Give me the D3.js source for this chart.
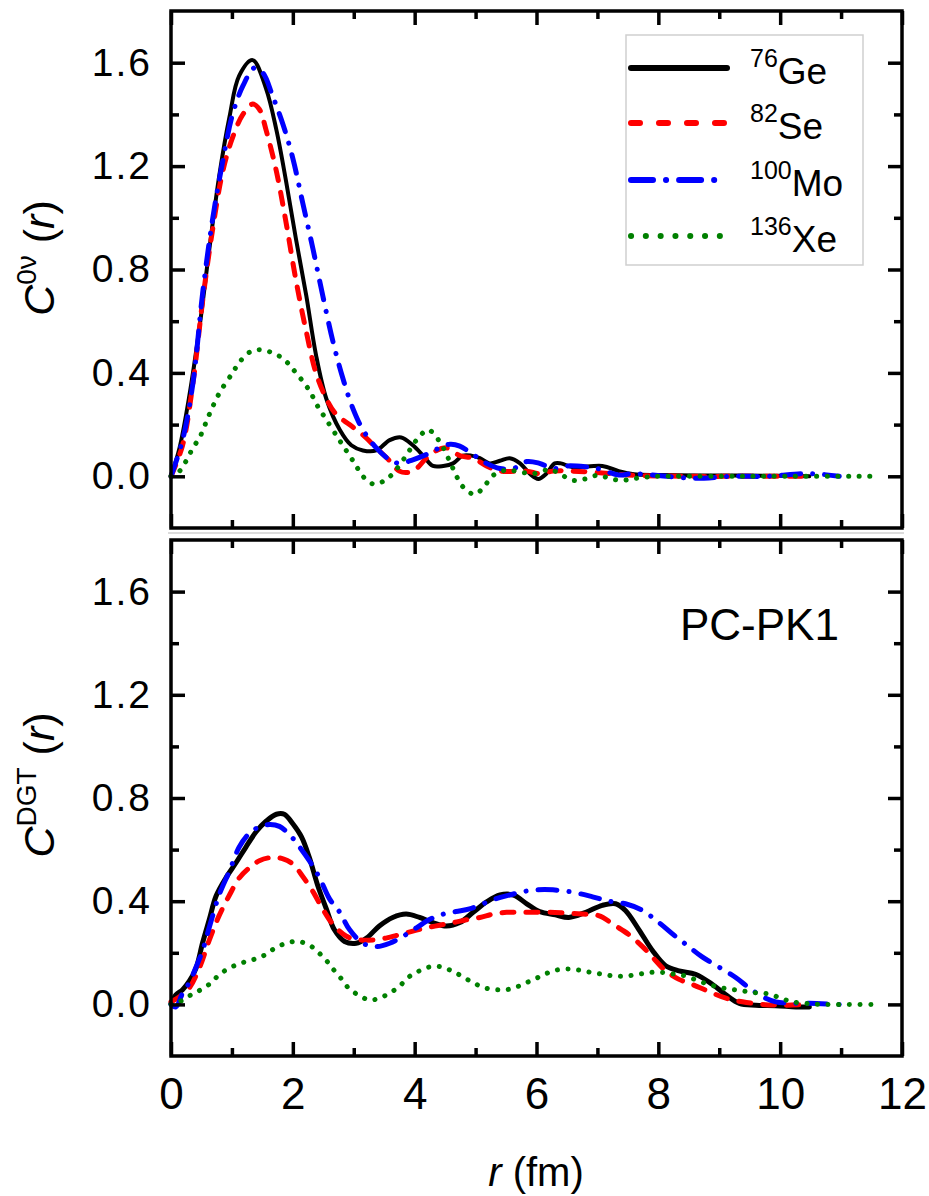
<!DOCTYPE html>
<html>
<head>
<meta charset="utf-8">
<script src="https://cdn.jsdelivr.net/npm/d3@7"></script>
<style>
  body { margin: 0; background: #fff; }
  text { font-family: Arial, "Liberation Sans", sans-serif; fill: #000; }
</style>
</head>
<body>
<svg id="chart" width="929" height="1196"></svg>
<script>
// series labels and styles
const massNumbers = ["76", "82", "100", "136"];
const symbols = ["Ge", "Se", "Mo", "Xe"];
const colors = ["#000000", "#ff0000", "#0000ff", "#008000"];
const dashes = [null, "12,12", "19,12,0.1,12", "0.1,10.5"];

const xMajor = [0, 2, 4, 6, 8, 10, 12];
const xMinor = [1, 3, 5, 7, 9, 11];
const yMajor = [0, 0.4, 0.8, 1.2, 1.6];
const yMinor = [0.2, 0.6, 1.0, 1.4];

// top panel, C^0v(r): [r (fm), value]
const ge0v = [[0,0],[0.14,0.11],[0.30,0.31],[0.47,0.58],[0.63,0.88],[0.79,1.16],[0.96,1.39],[1.12,1.55],[1.34,1.61],[1.56,1.50],[1.73,1.34],[1.89,1.14],[2.05,0.92],[2.22,0.70],[2.38,0.47],[2.55,0.30],[2.77,0.18],[2.96,0.12],[3.15,0.10],[3.37,0.10],[3.59,0.14],[3.78,0.15],[3.97,0.12],[4.14,0.08],[4.30,0.04],[4.47,0.04],[4.63,0.05],[4.79,0.08],[4.93,0.08],[5.07,0.07],[5.23,0.05],[5.40,0.06],[5.56,0.07],[5.73,0.05],[5.89,0.01],[6.03,-0.01],[6.16,0.01],[6.30,0.05],[6.40,0.05],[6.60,0.035],[7.08,0.04],[7.35,0.02],[7.60,0.008],[8.0,0.005],[9.0,0.003],[10.0,0.002],[10.48,0]];
const se0v = [[0,0],[0.19,0.12],[0.36,0.36],[0.52,0.68],[0.68,0.95],[0.85,1.18],[1.01,1.31],[1.18,1.40],[1.34,1.44],[1.45,1.42],[1.56,1.34],[1.73,1.18],[1.89,0.98],[2.05,0.76],[2.22,0.56],[2.38,0.40],[2.55,0.30],[2.71,0.24],[2.93,0.20],[3.15,0.16],[3.37,0.11],[3.59,0.06],[3.75,0.02],[3.89,0.015],[4.03,0.03],[4.19,0.07],[4.36,0.10],[4.52,0.11],[4.74,0.08],[4.96,0.07],[5.18,0.04],[5.40,0.02],[5.84,0.02],[6.05,0.01],[6.27,0.02],[6.60,0.02],[7.0,0.015],[7.5,0.005],[8.5,0],[9.5,0],[10.5,0]];
const mo0v = [[0,0],[0.19,0.14],[0.36,0.36],[0.52,0.71],[0.68,0.99],[0.85,1.22],[1.01,1.40],[1.18,1.51],[1.37,1.58],[1.51,1.56],[1.67,1.47],[1.84,1.36],[2.0,1.23],[2.16,1.06],[2.33,0.88],[2.49,0.70],[2.66,0.52],[2.82,0.38],[2.99,0.26],[3.15,0.18],[3.37,0.11],[3.59,0.064],[3.75,0.05],[3.97,0.064],[4.19,0.084],[4.41,0.11],[4.58,0.124],[4.74,0.117],[4.96,0.084],[5.18,0.05],[5.40,0.03],[5.62,0.03],[5.84,0.057],[6.05,0.05],[6.27,0.03],[6.50,0.04],[6.80,0.037],[7.0,0.03],[7.35,0.005],[7.57,0.01],[8.0,0.003],[8.6,-0.008],[9.2,0],[9.8,0],[10.37,0.01],[10.7,0.007],[10.97,0]];
const xe0v = [[0,0],[0.14,0.02],[0.25,0.06],[0.36,0.11],[0.47,0.15],[0.63,0.24],[0.79,0.32],[1.01,0.40],[1.12,0.44],[1.29,0.48],[1.45,0.49],[1.64,0.48],[1.81,0.46],[1.95,0.43],[2.05,0.40],[2.19,0.36],[2.30,0.32],[2.41,0.27],[2.52,0.23],[2.71,0.16],[2.82,0.12],[2.96,0.07],[3.04,0.04],[3.15,0],[3.32,-0.03],[3.48,-0.02],[3.64,0.01],[3.86,0.08],[4.03,0.14],[4.22,0.18],[4.36,0.15],[4.47,0.11],[4.63,0.03],[4.79,-0.04],[4.99,-0.07],[5.15,-0.036],[5.29,0.004],[5.51,0.024],[5.73,0.017],[5.95,0.01],[6.16,0.024],[6.26,0.024],[6.42,0.004],[6.61,-0.016],[6.80,-0.01],[7.0,0.004],[7.19,-0.007],[7.38,-0.016],[7.57,-0.01],[7.79,-0.003],[8.0,0],[9.0,0],[10.0,0],[11.6,0]];

// bottom panel, C^DGT(r)
const geDgt = [[0,0.004],[0.08,0.037],[0.19,0.057],[0.30,0.09],[0.41,0.14],[0.52,0.24],[0.63,0.33],[0.74,0.42],[0.90,0.49],[1.07,0.55],[1.23,0.61],[1.40,0.67],[1.56,0.71],[1.73,0.737],[1.86,0.737],[2.0,0.70],[2.14,0.65],[2.27,0.57],[2.41,0.46],[2.55,0.37],[2.68,0.29],[2.85,0.244],[3.04,0.237],[3.21,0.257],[3.42,0.304],[3.64,0.337],[3.86,0.35],[4.08,0.337],[4.30,0.317],[4.52,0.304],[4.74,0.317],[4.96,0.357],[5.18,0.397],[5.40,0.424],[5.62,0.424],[5.84,0.39],[6.05,0.36],[6.31,0.347],[6.53,0.337],[6.81,0.357],[7.08,0.384],[7.30,0.39],[7.46,0.364],[7.68,0.29],[7.90,0.21],[8.12,0.15],[8.34,0.13],[8.61,0.117],[8.89,0.077],[9.11,0.037],[9.33,0.004],[9.60,-0.003],[9.93,-0.005],[10.26,-0.01],[10.48,-0.01]];
const seDgt = [[0,0.01],[0.14,0.03],[0.30,0.064],[0.47,0.144],[0.63,0.25],[0.79,0.344],[0.96,0.424],[1.12,0.49],[1.29,0.53],[1.45,0.557],[1.67,0.57],[1.84,0.564],[2.0,0.544],[2.16,0.497],[2.33,0.437],[2.49,0.37],[2.66,0.31],[2.88,0.264],[3.10,0.25],[3.32,0.25],[3.53,0.257],[3.75,0.27],[3.97,0.284],[4.19,0.297],[4.41,0.307],[4.63,0.317],[4.85,0.328],[5.07,0.337],[5.29,0.35],[5.51,0.357],[5.73,0.357],[5.95,0.357],[6.22,0.357],[6.42,0.355],[6.75,0.35],[7.02,0.344],[7.30,0.304],[7.52,0.27],[7.74,0.224],[7.90,0.184],[8.12,0.13],[8.34,0.097],[8.56,0.077],[8.83,0.05],[9.11,0.024],[9.38,0.01],[9.71,0],[10.04,-0.003],[10.48,0]];
const moDgt = [[0,0],[0.08,-0.01],[0.19,0.044],[0.30,0.084],[0.41,0.144],[0.52,0.21],[0.63,0.30],[0.79,0.424],[0.96,0.517],[1.12,0.61],[1.29,0.664],[1.45,0.688],[1.62,0.697],[1.78,0.69],[1.95,0.657],[2.11,0.61],[2.27,0.557],[2.44,0.49],[2.60,0.41],[2.77,0.357],[2.93,0.29],[3.15,0.237],[3.37,0.224],[3.59,0.237],[3.81,0.264],[4.03,0.297],[4.25,0.33],[4.47,0.35],[4.68,0.36],[4.90,0.37],[5.12,0.39],[5.34,0.41],[5.56,0.424],[5.78,0.437],[6.0,0.444],[6.27,0.444],[6.59,0.435],[6.92,0.417],[7.19,0.40],[7.46,0.39],[7.74,0.364],[8.01,0.317],[8.28,0.264],[8.50,0.224],[8.72,0.184],[9.0,0.144],[9.27,0.104],[9.49,0.064],[9.71,0.03],[9.93,0.01],[10.26,0.004],[10.48,0.004],[10.97,0]];
const xeDgt = [[0,0],[0.16,0.013],[0.33,0.037],[0.49,0.057],[0.66,0.084],[0.79,0.115],[0.96,0.141],[1.15,0.16],[1.34,0.173],[1.53,0.19],[1.70,0.217],[1.89,0.237],[2.08,0.244],[2.27,0.23],[2.41,0.204],[2.55,0.17],[2.66,0.137],[2.79,0.101],[2.90,0.067],[3.07,0.037],[3.26,0.017],[3.42,0.024],[3.59,0.044],[3.75,0.07],[3.89,0.104],[4.03,0.124],[4.22,0.144],[4.41,0.147],[4.58,0.133],[4.77,0.11],[4.96,0.084],[5.15,0.064],[5.34,0.057],[5.51,0.057],[5.70,0.07],[5.89,0.09],[6.08,0.11],[6.27,0.13],[6.50,0.137],[6.70,0.133],[6.89,0.124],[7.08,0.117],[7.27,0.11],[7.46,0.11],[7.68,0.117],[7.87,0.124],[8.07,0.124],[8.26,0.117],[8.45,0.11],[8.67,0.09],[8.86,0.075],[9.05,0.064],[9.24,0.057],[9.44,0.05],[9.63,0.044],[9.82,0.04],[10.01,0.024],[10.20,0.01],[10.42,0.004],[10.64,0],[11.57,0]];

const svg = d3.select("#chart");
const x = d3.scaleLinear().domain([0, 12]).range([171, 902]);

const panels = [
  { top: 11, bottom: 528, series: [ge0v, se0v, mo0v, xe0v], sup: "0ν", titleY: 258, xLabels: false, geWidth: 4 },
  { top: 540, bottom: 1056, series: [geDgt, seDgt, moDgt, xeDgt], sup: "DGT", titleY: 785, xLabels: true, geWidth: 5 }
];

// faint separator between panels
svg.append("line")
  .attr("x1", 168).attr("x2", 904)
  .attr("y1", 533).attr("y2", 533)
  .attr("stroke", "#dcdcdc").attr("stroke-width", 2);

panels.forEach((p) => {
  const y = d3.scaleLinear().domain([-0.2, 1.8]).range([p.bottom, p.top]);
  const g = svg.append("g");

  const line = d3.line()
    .x((d) => x(d[0]))
    .y((d) => y(d[1]))
    .curve(d3.curveCatmullRom.alpha(0.5));

  p.series.forEach((s, i) => {
    g.append("path")
      .datum(s)
      .attr("fill", "none")
      .attr("stroke", colors[i])
      .attr("stroke-width", i === 0 ? p.geWidth : 5)
      .attr("stroke-linecap", "round")
      .attr("stroke-linejoin", "round")
      .attr("stroke-dasharray", dashes[i])
      .attr("d", line);
  });

  // axes, ticks pointing inward on all four sides
  const axes = [
    [d3.axisBottom, `translate(0,${p.bottom})`, x, xMajor, xMinor],
    [d3.axisTop, `translate(0,${p.top})`, x, xMajor, xMinor],
    [d3.axisLeft, `translate(${x(0)},0)`, y, yMajor, yMinor],
    [d3.axisRight, `translate(${x(12)},0)`, y, yMajor, yMinor]
  ];
  axes.forEach(([axisFn, tr, scale, major, minor], k) => {
    const maj = g.append("g").attr("transform", tr)
      .call(axisFn(scale).tickValues(major).tickSize(-14).tickPadding(k === 0 ? 22 : 19));
    const mnr = g.append("g").attr("transform", tr)
      .call(axisFn(scale).tickValues(minor).tickSize(-8).tickFormat(""));
    [maj, mnr].forEach((a) => {
      a.select(".domain").remove();
      a.selectAll("line").attr("stroke", "#000").attr("stroke-width", 3.5);
    });
    maj.selectAll("text").attr("fill", "#000").attr("font-family", "Arial, 'Liberation Sans', sans-serif");
    if (k === 0) {
      if (p.xLabels) maj.selectAll("text").attr("font-size", 44);
      else maj.selectAll("text").remove();
    } else if (k === 2) {
      maj.selectAll("text")
        .attr("font-size", 39)
        .attr("letter-spacing", 2)
        .text((d) => d3.format(".1f")(d));
    } else {
      maj.selectAll("text").remove();
    }
  });

  // frame
  g.append("rect")
    .attr("x", x(0)).attr("y", p.top)
    .attr("width", x(12) - x(0)).attr("height", p.bottom - p.top)
    .attr("fill", "none").attr("stroke", "#000").attr("stroke-width", 3.5);

  // y title
  const t = g.append("text")
    .attr("transform", `translate(54,${p.titleY}) rotate(-90)`)
    .attr("text-anchor", "middle")
    .attr("font-size", 43);
  t.append("tspan").attr("font-style", "italic").text("C");
  t.append("tspan").attr("font-size", 28).attr("dy", -18).text(p.sup);
  t.append("tspan").attr("dy", 18).text(" (");
  t.append("tspan").attr("font-style", "italic").text("r");
  t.append("tspan").text(")");
});

// legend
const legend = svg.append("g");
legend.append("rect")
  .attr("x", 626).attr("y", 35).attr("width", 237).attr("height", 230)
  .attr("fill", "#fff").attr("stroke", "#cfcfcf").attr("stroke-width", 1.5);
const rowY = [68, 123, 180, 236];
symbols.forEach((s, i) => {
  legend.append("line")
    .attr("x1", 631).attr("x2", 727)
    .attr("y1", rowY[i]).attr("y2", rowY[i])
    .attr("stroke", colors[i]).attr("stroke-width", 6)
    .attr("stroke-linecap", "round")
    .attr("stroke-dasharray", i === 1 ? "9,19" : i === 2 ? "22,13,0.1,13" : i === 3 ? "0.1,14.7" : null);
  const lt = legend.append("text").attr("x", 750).attr("y", rowY[i] + 16).attr("font-size", 37);
  lt.append("tspan").attr("font-size", 25).attr("dy", -17).text(massNumbers[i]);
  lt.append("tspan").attr("dy", 17).text(s);
});

// panel note
svg.append("text")
  .attr("x", 680).attr("y", 640)
  .attr("font-size", 44)
  .text("PC-PK1");

// x title
const xt = svg.append("text")
  .attr("x", 536).attr("y", 1186)
  .attr("text-anchor", "middle")
  .attr("font-size", 40);
xt.append("tspan").attr("font-style", "italic").text("r");
xt.append("tspan").text(" (fm)");
</script>
</body>
</html>
